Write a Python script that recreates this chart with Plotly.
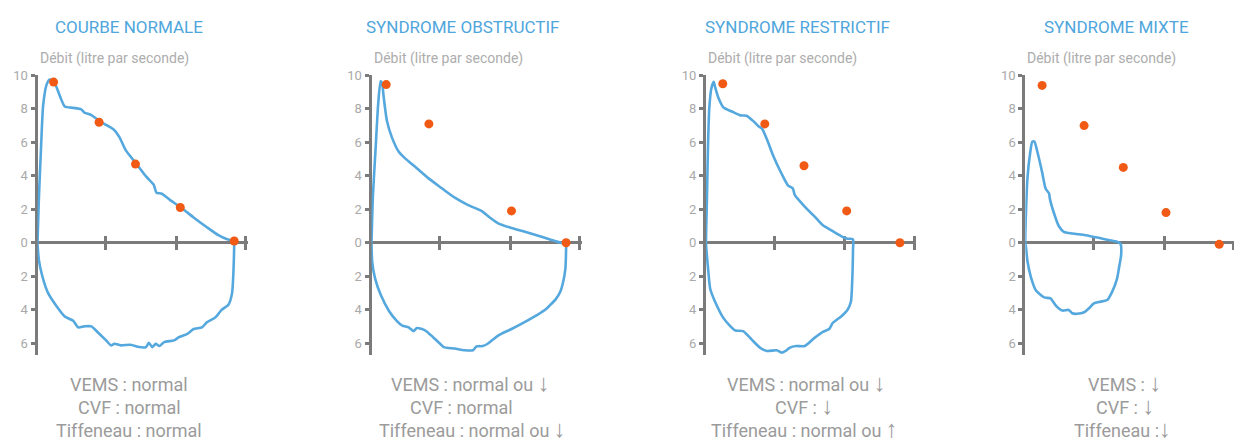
import plotly.graph_objects as go

# ---------------- data ----------------
titles = ["COURBE NORMALE", "SYNDROME OBSTRUCTIF", "SYNDROME RESTRICTIF", "SYNDROME MIXTE"]
y_label = "Débit (litre par seconde)"
ARROW_DOWN = '<span style="font-family:Noto Sans;font-size:24px">↓</span>'
ARROW_UP = '<span style="font-family:Noto Sans;font-size:24px">↑</span>'
captions = [
    ["VEMS : normal", "CVF : normal", "Tiffeneau : normal"],
    ["VEMS : normal ou " + ARROW_DOWN, "CVF : normal", "Tiffeneau : normal ou " + ARROW_DOWN],
    ["VEMS : normal ou " + ARROW_DOWN, "CVF : " + ARROW_DOWN, "Tiffeneau : normal ou " + ARROW_UP],
    ["VEMS : " + ARROW_DOWN, "CVF : " + ARROW_DOWN, "Tiffeneau :" + ARROW_DOWN],
]
y_tick_vals = [-6, -4, -2, 0, 2, 4, 6, 8, 10]
y_tick_text = ["6", "4", "2", "0", "2", "4", "6", "8", "10"]
x_tick_vals = [0.975, 1.985, 2.975]

# flow-volume loops (volume, flow)
normal_x = [0, 0.02, 0.05, 0.08, 0.13, 0.175, 0.24, 0.32, 0.39, 0.51, 0.62, 0.67, 0.77, 0.88, 0.98,
            1.09, 1.17, 1.26, 1.40, 1.55, 1.66, 1.70, 1.77, 1.90, 2.05, 2.23, 2.42, 2.59, 2.71, 2.81,
            2.81, 2.80, 2.78, 2.73, 2.63, 2.54, 2.42, 2.35, 2.23, 2.14, 2.02, 1.95, 1.81, 1.74, 1.69,
            1.64, 1.59, 1.55, 1.45, 1.33, 1.19, 1.10, 1.05, 0.98, 0.86, 0.77, 0.67, 0.58, 0.51, 0.39,
            0.27, 0.15, 0.07, 0.02, 0]
normal_y = [0, 2.69, 5.63, 8.18, 9.45, 9.75, 9.59, 8.76, 8.14, 8.06, 7.98, 7.78, 7.63, 7.29, 7.04,
            6.76, 6.31, 5.53, 4.78, 3.96, 3.47, 2.98, 2.94, 2.53, 2.10, 1.51, 0.92, 0.43, 0.20, 0.10,
            -0.05, -1.63, -3.00, -3.69, -4.02, -4.47, -4.76, -5.06, -5.16, -5.45, -5.65, -5.84, -5.94, -6.18, -6.04,
            -6.24, -5.98, -6.24, -6.24, -6.10, -6.14, -6.04, -6.14, -5.84, -5.35, -5.00, -5.00, -5.06, -4.67, -4.41,
            -3.78, -3.00, -2.02, -1.04, -0.05]

obstr_x = [0, 0.02, 0.06, 0.095, 0.13, 0.15, 0.175, 0.22, 0.29, 0.39, 0.48, 0.62, 0.81, 1.00, 1.19,
           1.38, 1.57, 1.69, 1.81, 2.00, 2.18, 2.37, 2.56, 2.70, 2.78,
           2.78, 2.77, 2.74, 2.70, 2.63, 2.54, 2.49, 2.37, 2.18, 2.00, 1.81, 1.66, 1.59, 1.50, 1.45,
           1.33, 1.19, 1.03, 0.98, 0.88, 0.77, 0.65, 0.60, 0.53, 0.44, 0.36, 0.25, 0.13, 0.05, 0.01, 0]
obstr_y = [0, 2.78, 5.73, 8.27, 9.65, 9.55, 8.67, 7.29, 6.31, 5.43, 5.04, 4.55, 3.86, 3.27, 2.69,
           2.25, 1.90, 1.51, 1.16, 0.88, 0.67, 0.43, 0.18, 0.00, -0.06,
           -0.35, -1.53, -2.31, -2.90, -3.39, -3.78, -3.98, -4.31, -4.76, -5.16, -5.55, -6.04, -6.18, -6.20, -6.43,
           -6.43, -6.33, -6.24, -6.04, -5.65, -5.25, -5.10, -5.29, -5.06, -4.96, -4.67, -4.08, -3.10, -2.12, -1.14, -0.06]

restr_x = [0, 0.014, 0.028, 0.047, 0.076, 0.11, 0.13, 0.18, 0.25, 0.37, 0.49, 0.58, 0.68, 0.75, 0.80,
           0.87, 0.96, 1.08, 1.17, 1.24, 1.27, 1.41, 1.55, 1.67, 1.81, 1.95, 2.02, 2.10,
           2.10, 2.09, 2.07, 2.02, 1.93, 1.81, 1.76, 1.67, 1.55, 1.41, 1.29, 1.20, 1.15, 1.08, 1.01,
           0.87, 0.77, 0.65, 0.53, 0.42, 0.35, 0.25, 0.13, 0.06, 0.03, 0.005, 0]
restr_y = [0, 2.75, 5.69, 8.04, 9.22, 9.61, 9.31, 8.63, 8.08, 7.84, 7.61, 7.59, 7.25, 6.96, 6.82,
           6.18, 5.20, 4.12, 3.43, 3.24, 2.84, 2.16, 1.57, 1.04, 0.69, 0.35, 0.24, 0.20,
           -0.39, -2.16, -3.53, -4.02, -4.41, -4.80, -5.16, -5.33, -5.69, -6.18, -6.18, -6.27, -6.43, -6.57, -6.43,
           -6.47, -6.27, -5.78, -5.29, -5.25, -5.00, -4.51, -3.53, -2.75, -1.57, -0.39, 0]

mixte_x = [0, 0.01, 0.03, 0.07, 0.10, 0.13, 0.175, 0.24, 0.29, 0.34, 0.35, 0.41, 0.48, 0.55, 0.67,
           0.86, 1.05, 1.19, 1.31,
           1.36, 1.37, 1.34, 1.31, 1.24, 1.17, 1.07, 0.98, 0.91, 0.84, 0.74, 0.67, 0.62, 0.53, 0.44,
           0.36, 0.27, 0.15, 0.08, 0.03, 0.01, 0]
mixte_y = [0, 1.86, 3.82, 5.39, 6.04, 6.04, 5.39, 4.22, 3.24, 2.94, 2.65, 1.76, 0.98, 0.65, 0.55,
           0.45, 0.29, 0.16, 0.06,
           -0.06, -0.69, -1.47, -2.16, -2.94, -3.43, -3.53, -3.63, -3.92, -4.16, -4.25, -4.22, -4.02, -4.06, -3.78,
           -3.33, -3.27, -2.84, -2.06, -1.08, -0.29, 0]

curves_x = [normal_x, obstr_x, restr_x, mixte_x]
curves_y = [normal_y, obstr_y, restr_y, mixte_y]

# reference (theoretical) points
dots_x = [
    [0.23, 0.88, 1.40, 2.04, 2.81],
    [0.21, 0.82, 2.00, 2.78],
    [0.24, 0.84, 1.40, 2.01, 2.77],
    [0.24, 0.84, 1.40, 2.01, 2.77],
]
dots_y = [
    [9.6, 7.2, 4.7, 2.1, 0.1],
    [9.45, 7.1, 1.9, 0.0],
    [9.5, 7.1, 4.6, 1.9, 0.0],
    [9.4, 7.0, 4.5, 1.8, -0.1],
]

# ---------------- layout / style ----------------
W, H = 1234, 440
axis_px = [37.5, 371.5, 706, 1025.3]   # left edge of each plot area (pixels)
px_per_unit_x = 70.0
zero_px = 239.5
px_per_unit_y = 17.0
y_range = [-6.7, 10]
x_end = 3.0
caption_rows = [384, 407, 430]
arrow_line_shift = 3  # px, taller arrow glyph enlarges the text box
caption_centers = [[1.31, 1.31, 1.31], [1.42, 1.29, 1.44], [1.44, 1.40, 1.40], [1.41, 1.42, 1.39]]

blue = "#55a8de"
orange = "#f05a14"
axis_gray = "#7b7b7b"
font_family = "Roboto"

fig = go.Figure()

y_top = 1 - (zero_px - y_range[1] * px_per_unit_y) / H
y_bot = 1 - (zero_px - y_range[0] * px_per_unit_y) / H
x_axis_pos = 1 - (zero_px - 1) / H

for i in range(4):
    n = i + 1
    xa = "x" if n == 1 else f"x{n}"
    ya = "y" if n == 1 else f"y{n}"
    fig.add_trace(go.Scatter(x=curves_x[i], y=curves_y[i], mode="lines",
                             line=dict(color=blue, width=2.6, shape="spline", smoothing=0.6),
                             xaxis=xa, yaxis=ya, hoverinfo="skip", showlegend=False))
    fig.add_trace(go.Scatter(x=dots_x[i], y=dots_y[i], mode="markers",
                             marker=dict(color=orange, size=9), cliponaxis=False,
                             xaxis=xa, yaxis=ya, hoverinfo="skip", showlegend=False))
    # dummy trace for overlay axis (inner tick marks)
    fig.add_trace(go.Scatter(x=[], y=[], xaxis=f"x{n + 4}", yaxis=ya, showlegend=False))

    x0 = axis_px[i] / W
    end_px = min(axis_px[i] + px_per_unit_x * x_end, W)
    x1 = end_px / W
    xr = [0, (end_px - axis_px[i]) / px_per_unit_x]
    common_x = dict(domain=[x0, x1], range=xr, anchor="free", position=x_axis_pos,
                    tickvals=x_tick_vals, showticklabels=False, showgrid=False, zeroline=False,
                    tickwidth=3, tickcolor=axis_gray, ticklen=6, fixedrange=True, layer="below traces")
    fig.layout[f"xaxis{n}" if n > 1 else "xaxis"] = dict(
        **common_x, showline=True, linecolor=axis_gray, linewidth=3, ticks="outside")
    fig.layout[f"xaxis{n + 4}"] = dict(
        **common_x, overlaying=xa, showline=False, ticks="inside")
    fig.layout[f"yaxis{n}" if n > 1 else "yaxis"] = dict(
        domain=[y_bot, y_top], range=y_range, anchor=xa,
        tickvals=y_tick_vals, ticktext=y_tick_text, ticks="outside", ticklen=4,
        tickwidth=3, tickcolor=axis_gray, showline=True, linecolor=axis_gray, linewidth=3,
        showgrid=False, zeroline=False, fixedrange=True, layer="below traces",
        tickfont=dict(family=font_family, size=13, color="#a9a9a9"))

    # title
    fig.add_annotation(text=titles[i], xref=xa, x=1.30, yref="paper", y=1 - 20 / H,
                       xanchor="center", yanchor="middle", showarrow=False,
                       font=dict(family=font_family, size=17, color="#4ea6dc"))
    # y axis label
    fig.add_annotation(text=y_label, xref=xa, x=0, yref="paper", y=1 - 52 / H,
                       xanchor="left", yanchor="middle", showarrow=False,
                       font=dict(family=font_family, size=14, color="#adadad"))
    # caption lines
    for k, line in enumerate(captions[i]):
        row = caption_rows[k] - (arrow_line_shift if "<span" in line else 0)
        fig.add_annotation(text=line, xref=xa, x=caption_centers[i][k],
                           yref="paper", y=1 - row / H, xanchor="center", yanchor="middle",
                           showarrow=False, borderpad=0,
                           font=dict(family=font_family, size=18, color="#9b9b9b"))

fig.update_layout(width=W, height=H, margin=dict(l=0, r=0, t=0, b=0),
                  paper_bgcolor="white", plot_bgcolor="white", showlegend=False)

fig.write_html("out.html", config={"displayModeBar": False},
               post_script="document.body.style.margin='0';document.body.style.overflow='hidden';")
